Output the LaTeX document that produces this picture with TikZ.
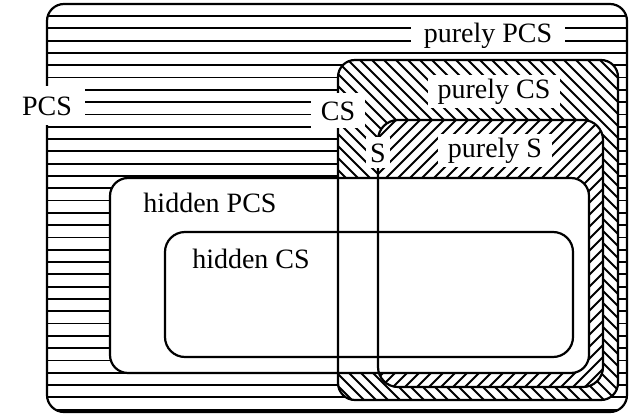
\documentclass[tikz,border=0pt]{standalone}
\usepackage{fontspec}
\setmainfont{Liberation Serif}
\begin{document}
\begin{tikzpicture}[x=1pt,y=-1pt,
  region/.style={line width=2.2pt,rounded corners=17pt},
  hatch/.style={line width=1.8pt},
  lbl/.style={fill=white,inner xsep=10pt,inner ysep=4pt,anchor=base,font=\fontsize{28}{30}\selectfont}]
\useasboundingbox (0,0) rectangle (629,415);
\begin{scope}
  \clip[rounded corners=17pt] (47,4) rectangle (627,412);
  \foreach \k in {0,...,32}
    \draw[hatch] (40,{16+12.3*\k}) -- (640,{16+12.3*\k});
\end{scope}
\fill[white,rounded corners=17pt] (338,60) rectangle (618,400);
\begin{scope}
  \clip[rounded corners=17pt] (338,60) rectangle (618,400);
  \foreach \c in {-420,-408,...,624}
    \draw[hatch] (\c,0) -- ({\c+420},420);
\end{scope}
\fill[white,rounded corners=20pt] (378,120) rectangle (603,387);
\begin{scope}
  \clip[rounded corners=20pt] (378,120) rectangle (603,387);
  \foreach \c in {480,492,...,1020}
    \draw[hatch] (\c,0) -- ({\c-420},420);
\end{scope}
\fill[white,rounded corners=18pt] (110,178) rectangle (589,373);
\draw[region] (47,4) rectangle (627,412);
\draw[region] (338,60) rectangle (618,400);
\draw[region,rounded corners=20pt] (378,120) rectangle (603,387);
\draw[region,rounded corners=18pt] (110,178) rectangle (589,373);
\draw[region,rounded corners=20pt] (165,232) rectangle (573,357);
\node[lbl,inner xsep=13pt,inner ysep=10pt] (pcs) at (47,115) {PCS};
\node[lbl,inner ysep=8pt] (cs) at (338,120) {CS};
\node[lbl,inner xsep=4pt,inner ysep=6pt] (s) at (378,162) {S};
\node[lbl,inner xsep=13pt] (purePCS) at (488,42) {purely PCS};
\node[lbl] (pureCS) at (494,98) {purely CS};
\node[lbl] (pureS) at (495,157) {purely S};
\node[lbl] (hidPCS) at (210,212) {hidden PCS};
\node[lbl] (hidCS) at (251,268) {hidden CS};
\end{tikzpicture}
\end{document}
